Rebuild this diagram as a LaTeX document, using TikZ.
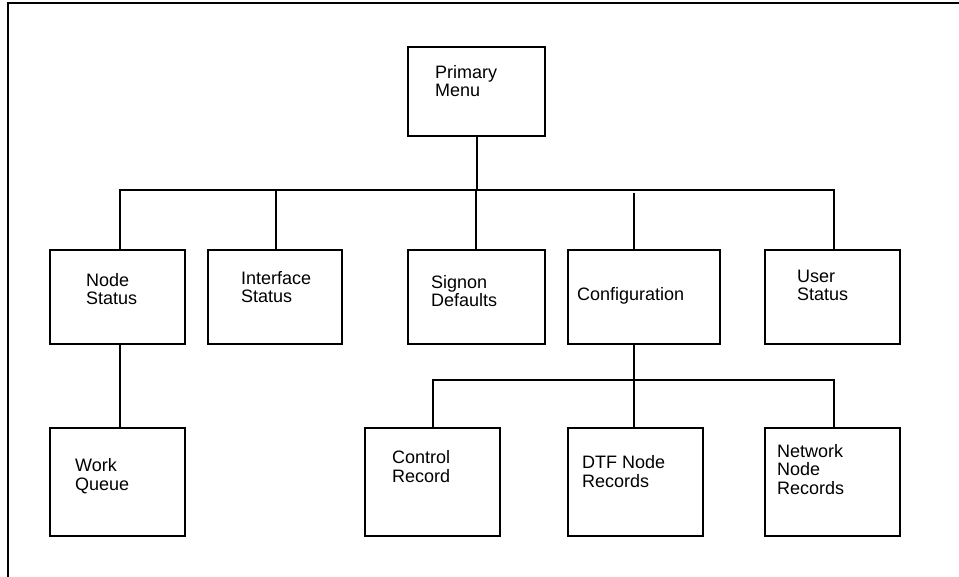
\documentclass[tikz,border=0pt]{standalone}
\usepackage{fontspec}
\setmainfont{Liberation Sans}
\begin{document}
\begin{tikzpicture}[x=1pt,y=-1pt,
  box/.style={draw,line width=1.5pt,rectangle,inner sep=0pt},
  lbl/.style={anchor=base west,align=left,inner sep=0pt,font=\fontsize{18}{18.3}\selectfont},
  conn/.style={line width=1.5pt},
  frame/.style={line width=2pt}]
\useasboundingbox (0,0) rectangle (959,577);
% frame
\coordinate (fbl) at (8,577);
\coordinate (ftl) at (8,3);
\coordinate (ftr) at (959,3);
\draw[frame] (fbl) -- (ftl) -- (ftr);
% boxes (corner to corner)
\newcommand{\mybox}[5]{\node[box,minimum width=#4-#2,minimum height=#5-#3] (#1) at ({(#2+#4)/2},{(#3+#5)/2}) {};}
\mybox{pm}{408}{47}{545}{136}
\mybox{ns}{50}{250}{185}{344}
\mybox{is}{208}{250}{342}{344}
\mybox{sd}{408}{250}{545}{344}
\mybox{cf}{568}{250}{720}{344}
\mybox{us}{765}{250}{900}{344}
\mybox{wq}{50}{428}{185}{536}
\mybox{cr}{365}{428}{500}{536}
\mybox{dn}{568}{428}{703}{536}
\mybox{nn}{765}{428}{900}{536}
% labels (anchor = baseline of the last line)
\node[lbl] (tpm) at (435,97) {Primary\\Menu};
\node[lbl] (tns) at (86,305) {Node\\Status};
\node[lbl] (tis) at (241,303) {Interface\\Status};
\node[lbl] (tsd) at (431,307) {Signon\\Defaults};
\node[lbl] (tcf) at (577,301) {Configuration};
\node[lbl] (tus) at (797,301) {User\\Status};
\node[lbl] (twq) at (75,490) {Work\\Queue};
\node[lbl] (tcr) at (392,482) {Control\\Record};
\node[lbl] (tdn) at (582,487) {DTF Node\\Records};
\node[lbl] (tnn) at (777,494) {Network\\Node\\Records};
% main bus
\coordinate (b0) at (477,190);
\coordinate (b1) at (120,190);
\coordinate (b2) at (276,190);
\coordinate (b3) at (476,190);
\coordinate (b4) at (634,193);
\coordinate (b5) at (834,190);
\draw[conn] (b0 |- pm.south) -- (b0);
\draw[conn] (b1 |- ns.north) -- (b1) -- (b5) -- (b5 |- us.north);
\draw[conn] (b2) -- (b2 |- is.north);
\draw[conn] (b3) -- (b3 |- sd.north);
\draw[conn] (b4) -- (b4 |- cf.north);
% node status -> work queue
\coordinate (w1) at (120,390);
\draw[conn] (w1 |- ns.south) -- (w1 |- wq.north);
% configuration sub-bus
\coordinate (s0) at (634,380);
\coordinate (s1) at (433,380);
\coordinate (s2) at (634,380);
\coordinate (s3) at (834,380);
\draw[conn] (s0 |- cf.south) -- (s0);
\draw[conn] (s1 |- cr.north) -- (s1) -- (s3) -- (s3 |- nn.north);
\draw[conn] (s2) -- (s2 |- dn.north);
\end{tikzpicture}
\end{document}
